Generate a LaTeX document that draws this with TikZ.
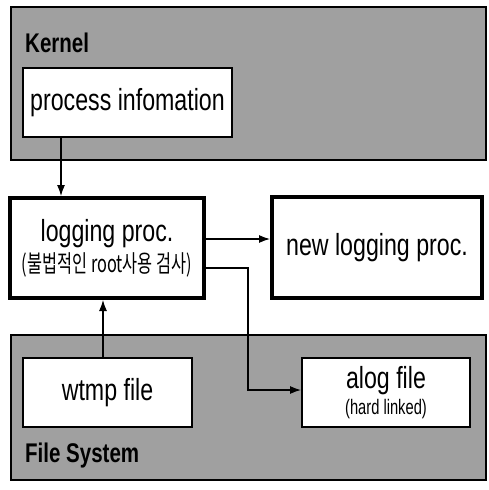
\documentclass[tikz,border=0pt]{standalone}
\usepackage{fontspec}
\setmainfont[FakeStretch=0.76]{Liberation Sans}
\newfontfamily\krfont[FakeStretch=0.68]{Noto Sans CJK KR}
\newfontfamily\narrowfont[FakeStretch=0.7]{Liberation Sans}
\usetikzlibrary{arrows.meta}
\definecolor{panelgray}{RGB}{160,160,160}
\tikzset{
  panel/.style={draw=black, line width=1.5pt, fill=panelgray, anchor=north west, inner sep=0pt},
  thinbox/.style={draw=black, line width=2pt, fill=white, inner sep=0pt, align=center},
  thickbox/.style={draw=black, line width=4pt, fill=white, inner sep=0pt, align=center},
  bigtext/.style={font=\fontsize{30.5}{32}\selectfont},
  paneltitle/.style={font=\fontsize{27}{27}\selectfont\bfseries, anchor=base west, inner sep=0pt},
  arr/.style={draw=black, line width=1.2pt, -{Latex[length=11pt,width=8pt]}},
}
\begin{document}
\begin{tikzpicture}[x=1pt,y=-1pt]
\useasboundingbox (0,0) rectangle (488,490);
% panels
\node[panel, minimum width=475pt, minimum height=153pt] (kernel) at (10,6) {};
\node[panel, minimum width=475pt, minimum height=145pt] (fs) at (10,334) {};
\node[paneltitle] (kerneltitle) at (25,52) {Kernel};
\node[paneltitle] (fstitle) at (25,462) {File System};
% boxes
\node[thinbox, bigtext, minimum width=209pt, minimum height=69pt] (pinfo) at (127.5,102.5) {process infomation};
\node[thickbox, minimum width=194pt, minimum height=100pt] (logging) at (107,248)
  {\fontsize{30.5}{30.5}\selectfont logging proc.\\[4pt]{\fontsize{24}{24}\selectfont\krfont (불법적인 root사용 검사)}};
\node[thickbox, bigtext, minimum width=210pt, minimum height=101pt] (newlog) at (377,247.5) {new logging proc.};
\node[thinbox, bigtext, minimum width=169pt, minimum height=69pt] (wtmp) at (107.5,392.5) {wtmp file};
\node[thinbox, minimum width=168pt, minimum height=69pt] (alog) at (386,392.5)
  {\fontsize{30.5}{30.5}\selectfont alog file\\[3pt]{\fontsize{21}{21}\selectfont\narrowfont (hard linked)}};
% connectors
\coordinate (bend) at (248,390);
\draw[arr] ([xshift=39pt]pinfo.south west) -- ([xshift=39pt]pinfo.south west |- logging.north);
\draw[arr] ([xshift=81pt]wtmp.north west) -- ([xshift=81pt]wtmp.north west |- logging.south);
\draw[arr] ([yshift=9pt]logging.east) -- ([yshift=9pt]logging.east -| newlog.west);
\draw[arr] ([yshift=-20pt]logging.east) -| (bend) -- (bend -| alog.west);
\end{tikzpicture}
\end{document}
